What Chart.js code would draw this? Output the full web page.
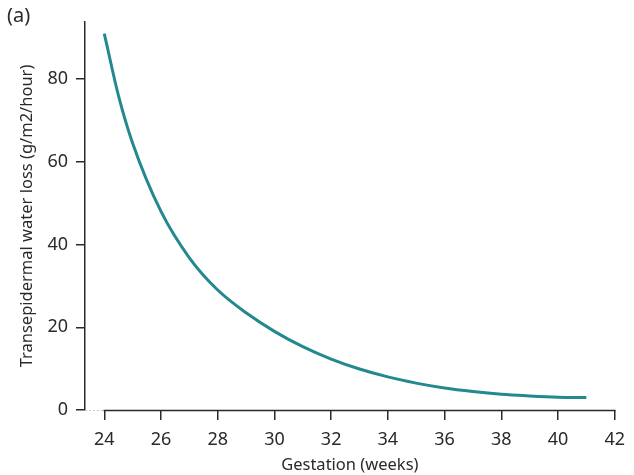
<!DOCTYPE html>
<html>
<head>
<meta charset="utf-8">
<style>
  html, body { margin: 0; padding: 0; background: #ffffff; }
  #wrap { width: 634px; height: 475px; }
</style>
</head>
<body>
<div id="wrap"><canvas id="lossChart" width="634" height="475"></canvas></div>
<script src="https://cdn.jsdelivr.net/npm/chart.js"></script>
<script>
  // gestation week vs transepidermal water loss
  const weeks = [24, 24.5, 25, 26, 27, 28, 29, 30, 31, 32, 33, 34, 35, 36, 37, 38, 39, 40, 41];
  const waterLoss = [91, 76, 64.5, 48, 36.8, 29, 23.5, 19, 15.3, 12.3, 9.9, 8.0, 6.5, 5.3, 4.45, 3.8, 3.4, 3.1, 3.0];
  const xTicks = [24, 26, 28, 30, 32, 34, 36, 38, 40, 42];
  const yTicks = [0, 20, 40, 60, 80];

  const ink = '#2a2a2a';
  const fontFamily = '"Noto Sans", "Open Sans", sans-serif';

  // x axis line only runs from the first tick, plus the "(a)" panel tag
  const extras = {
    id: 'extras',
    afterDraw(chart) {
      const ctx = chart.ctx;
      const x = chart.scales.x;
      const y0 = chart.chartArea.bottom;
      const xStart = x.getPixelForValue(xTicks[0]);
      ctx.save();
      ctx.strokeStyle = ink;
      ctx.lineWidth = 1.5;
      ctx.beginPath();
      ctx.moveTo(xStart - 0.75, y0 + 0.5);
      ctx.lineTo(x.getPixelForValue(xTicks[xTicks.length - 1]) + 0.75, y0 + 0.5);
      ctx.stroke();
      ctx.strokeStyle = '#c8c8c8';
      ctx.lineWidth = 1;
      ctx.setLineDash([2, 2]);
      ctx.beginPath();
      ctx.moveTo(chart.chartArea.left, y0 + 0.5);
      ctx.lineTo(xStart, y0 + 0.5);
      ctx.stroke();
      ctx.setLineDash([]);
      ctx.fillStyle = ink;
      ctx.font = '20px ' + fontFamily;
      ctx.textBaseline = 'top';
      ctx.fillText('(a)', 7, 6);
      ctx.restore();
    }
  };

  const ctx = document.getElementById('lossChart').getContext('2d');
  new Chart(ctx, {
    type: 'line',
    data: {
      datasets: [{
        data: weeks.map((w, i) => ({ x: w, y: waterLoss[i] })),
        borderColor: '#23898f',
        borderWidth: 3,
        pointRadius: 0,
        cubicInterpolationMode: 'monotone',
        fill: false
      }]
    },
    options: {
      responsive: false,
      animation: false,
      layout: { padding: { top: 22, right: 13, left: 0, bottom: 0 } },
      plugins: { legend: { display: false }, tooltip: { enabled: false } },
      scales: {
        x: {
          type: 'linear',
          min: 23.32,
          max: 42,
          afterBuildTicks(scale) { scale.ticks = xTicks.map(v => ({ value: v })); },
          afterFit(scale) { scale.height = 65; },
          border: { display: false },
          grid: { drawOnChartArea: false, drawTicks: true, tickLength: 10, color: ink, lineWidth: 1.5 },
          ticks: { color: ink, padding: 9, font: { family: fontFamily, size: 18 } },
          title: {
            display: true,
            text: 'Gestation (weeks)',
            color: ink,
            padding: { top: 0, bottom: 0 },
            font: { family: fontFamily, size: 16.5 }
          }
        },
        y: {
          min: 0,
          max: 93.8,
          afterBuildTicks(scale) { scale.ticks = yTicks.map(v => ({ value: v })); },
          afterFit(scale) { scale.width = 85; },
          border: { display: true, color: ink, width: 1.5 },
          grid: { drawOnChartArea: false, drawTicks: true, tickLength: 9, color: ink, lineWidth: 1.5 },
          ticks: { color: ink, padding: 8, font: { family: fontFamily, size: 18 } },
          title: {
            display: true,
            text: 'Transepidermal water loss (g/m2/hour)',
            color: ink,
            padding: { top: 17, bottom: 0 },
            font: { family: fontFamily, size: 16.5 }
          }
        }
      }
    },
    plugins: [extras]
  });
</script>
</body>
</html>
